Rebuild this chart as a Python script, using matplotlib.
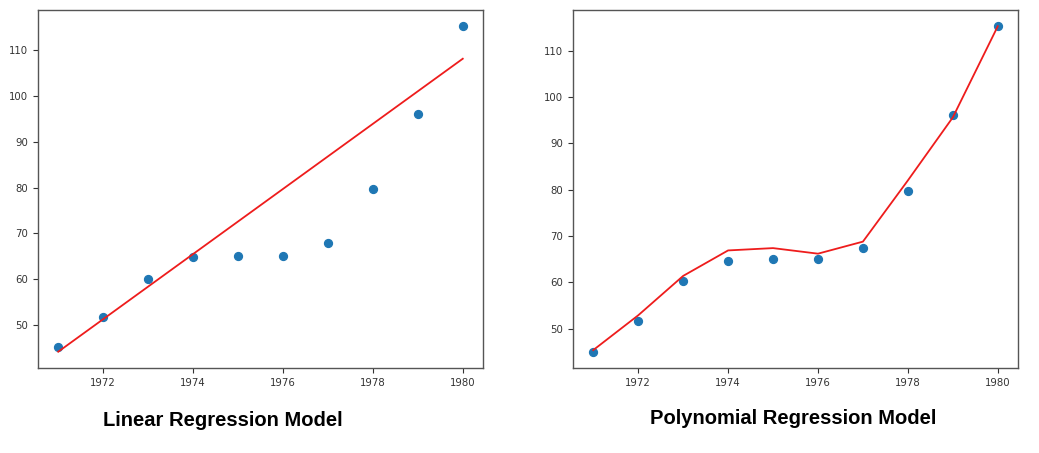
import matplotlib
matplotlib.use("Agg")
import matplotlib.pyplot as plt

# ---------------------------------------------------------------------------
# Data
# ---------------------------------------------------------------------------
years = [1971, 1972, 1973, 1974, 1975, 1976, 1977, 1978, 1979, 1980]
observed_left = [45.2, 51.7, 60.1, 64.9, 65.1, 65.1, 67.8, 79.7, 96.1, 115.3]
observed_right = [45.05, 51.65, 60.2, 64.7, 65.15, 65.15, 67.5, 79.8, 96.1, 115.25]

# linear model: straight line, only the two end points are needed
linear_years = [1971, 1980]
linear_pred = [44.1, 108.2]

# polynomial model prediction at each year
poly_pred = [45.4, 52.9, 61.4, 66.9, 67.4, 66.2, 68.8, 82.0, 95.6, 115.25]

titles = ["Linear Regression Model", "Polynomial Regression Model"]

# ---------------------------------------------------------------------------
# Figure
# ---------------------------------------------------------------------------
W, H = 1039, 453
fig = plt.figure(figsize=(W / 100, H / 100), dpi=100)
fig.patch.set_facecolor("white")

ax1 = fig.add_axes([38 / W, 1 - 368 / H, 445 / W, 358 / H])
ax2 = fig.add_axes([573 / W, 1 - 368 / H, 445 / W, 358 / H])

ax1.scatter(years, observed_left, s=32, color="#1f77b4", zorder=2)
ax1.plot(linear_years, linear_pred, color="#ee1c1c", lw=1.3, zorder=3)

ax2.scatter(years, observed_right, s=32, color="#1f77b4", zorder=2)
ax2.plot(years, poly_pred, color="#ee1c1c", lw=1.3, zorder=3)

for ax in (ax1, ax2):
    ax.tick_params(labelsize=7.3, colors="#333333", length=3.5, width=0.8)
    for sp in ax.spines.values():
        sp.set_color("#555555")
        sp.set_linewidth(1.0)

fig.text(223 / W, 1 - 421 / H, titles[0], ha="center", va="center",
         fontsize=14.5, fontweight="bold", family="Liberation Sans")
fig.text(793 / W, 1 - 418 / H, titles[1], ha="center", va="center",
         fontsize=14.5, fontweight="bold", family="Liberation Sans")

fig.savefig("out.png", dpi=100, facecolor="white")
